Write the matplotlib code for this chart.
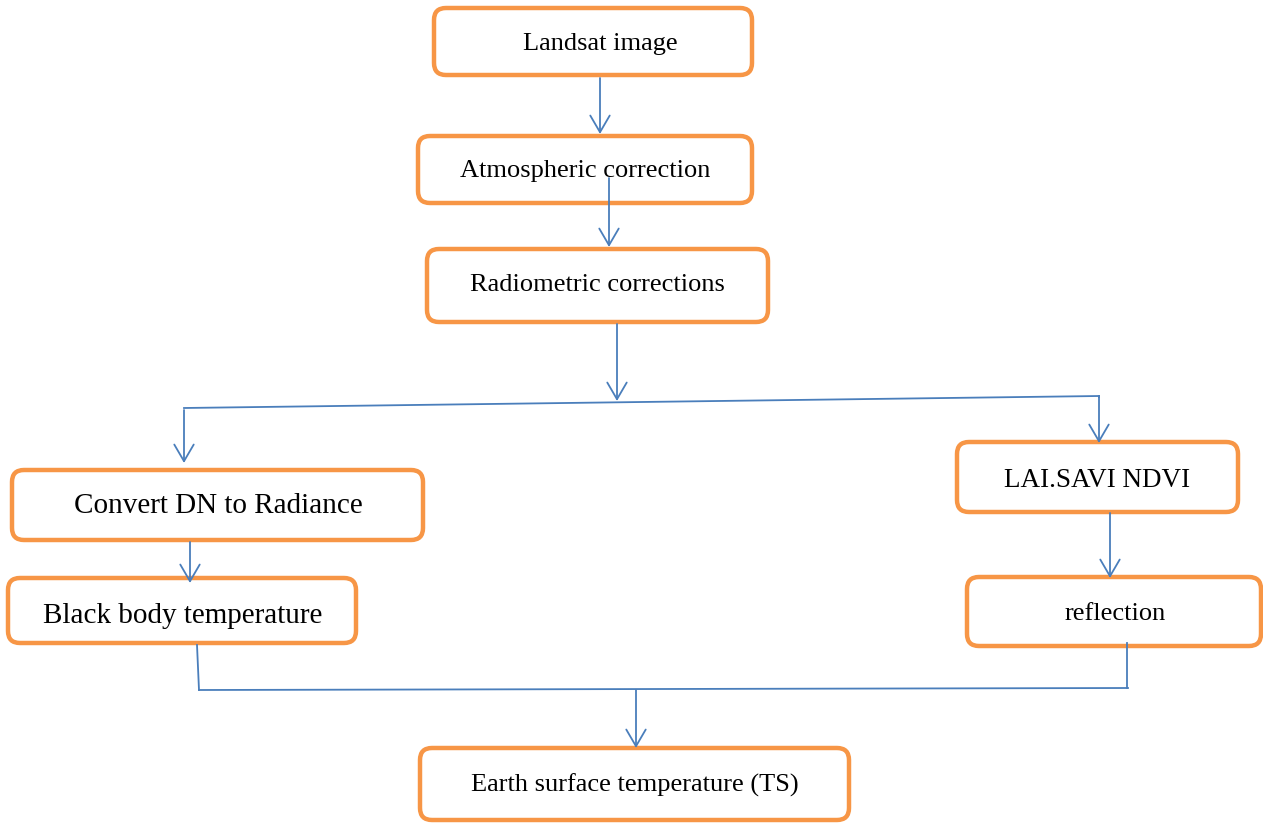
import matplotlib.pyplot as plt
from matplotlib.patches import FancyBboxPatch

# box texts and their frames (left, top, right, bottom) in picture pixels
labels = ["Landsat image", "Atmospheric correction", "Radiometric corrections",
          "Convert DN to Radiance", "Black body temperature",
          "LAI.SAVI NDVI", "reflection", "Earth surface temperature (TS)"]
x0 = [434, 418, 427, 12, 8, 957, 967, 420]
y0 = [8, 136, 249, 470, 578, 442, 577, 748]
x1 = [752, 752, 768, 423, 356, 1238, 1261, 849]
y1 = [75, 203, 322, 540, 643, 512, 646, 820]
text_x = [600, 585, 597, 218, 183, 1097, 1115, 635]
text_y = [44, 171, 285, 506, 616, 480, 614, 785]
sizes = [19, 19, 19, 21, 21, 19.5, 19, 19]

# arrows: (x start, y start, x end, y end)
arrows = [(600, 78, 600, 134), (609, 178, 609, 247), (617, 324, 617, 401),
          (184, 410, 184, 463), (1099, 396, 1099, 443), (190, 542, 190, 583),
          (1110, 513, 1110, 578), (636, 690, 636, 748)]
# plain connector lines
lines = [((184, 1099), (408, 396)), ((1099, 1099), (396, 397)),
         ((197, 199), (645, 690)), ((1127, 1127), (643, 688)),
         ((199, 1128), (690, 688))]

orange = "#F79646"
blue = "#4A7EBB"

fig = plt.figure(figsize=(12.63, 8.23), dpi=100)
ax = fig.add_axes([0, 0, 1, 1])
ax.set_xlim(0, 1263)
ax.set_ylim(823, 0)
ax.axis("off")

for i, lab in enumerate(labels):
    box = FancyBboxPatch((x0[i], y0[i]), x1[i] - x0[i], y1[i] - y0[i],
                         boxstyle="round,pad=0,rounding_size=12",
                         fc="white", ec=orange, lw=3.2, zorder=2)
    ax.add_patch(box)
    ax.text(text_x[i], text_y[i], lab, ha="center", va="center",
            fontsize=sizes[i], family="Liberation Serif", zorder=4)

for xs, ys in lines:
    ax.plot(xs, ys, color=blue, lw=1.3, zorder=3)

for xa, ya, xb, yb in arrows:
    ax.annotate("", xy=(xb, yb), xytext=(xa, ya),
                arrowprops=dict(arrowstyle="->,head_length=0.6,head_width=0.35",
                                color=blue, lw=1.3, mutation_scale=20,
                                shrinkA=0, shrinkB=0), zorder=3)

fig.savefig("out.png", dpi=100)
